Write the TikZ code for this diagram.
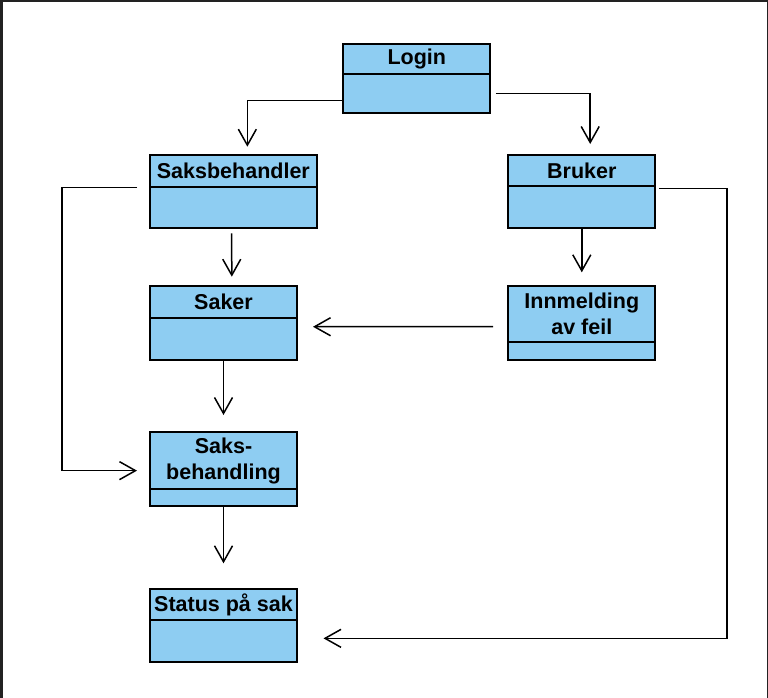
\documentclass[tikz,border=0pt]{standalone}
\usepackage{fontspec}
\setmainfont{Liberation Sans}
\usetikzlibrary{arrows.meta,positioning}
\definecolor{umlblue}{RGB}{142,205,242}
\definecolor{framegray}{RGB}{34,34,34}
\begin{document}
\begin{tikzpicture}[x=1pt,y=-1pt,line width=1.5pt,
  head/.style={draw,line width=2pt,fill=umlblue,anchor=north west,inner sep=0pt,outer sep=0pt,
    minimum width=147pt,minimum height=31pt,align=center,
    font=\fontsize{21.5}{26}\selectfont\bfseries},
  body/.style={draw,line width=2pt,fill=umlblue,inner sep=0pt,outer sep=0pt,
    minimum width=147pt,minimum height=42pt},
  arr/.style={-{Straight Barb[length=16pt,width=18pt]}}]
\useasboundingbox (0,0) rectangle (768,698);
\fill[framegray] (0,0) rectangle (768,2.5);
\fill[framegray] (0,0) rectangle (3,698);
\fill[framegray] (767,0) rectangle (768,698);
% klasser
\node[head,minimum height=30.3pt] (login) at (343.3,44) {Login};
\node[body,below=0pt of login,minimum height=38.4pt] (login-b) {};
\node[head,minimum width=166.7pt,minimum height=31.7pt] (saksbeh) at (150,155) {Saksbehandler};
\node[body,below=0pt of saksbeh,minimum width=166.7pt,minimum height=41.6pt] (saksbeh-b) {};
\node[head,minimum height=30.7pt] (bruker) at (508.3,155) {Bruker};
\node[body,below=0pt of bruker,minimum height=42.6pt] (bruker-b) {};
\node[head,minimum height=31.7pt] (saker) at (150,286) {Saker};
\node[body,below=0pt of saker,minimum height=42.3pt] (saker-b) {};
\node[head,minimum height=56.3pt] (innmeld) at (508.3,286) {Innmelding\\av feil};
\node[body,below=0pt of innmeld,minimum height=17.7pt] (innmeld-b) {};
\node[head,minimum height=56.7pt] (saksb) at (150,432.3) {Saks-\\behandling};
\node[body,below=0pt of saksb,minimum height=16.7pt] (saksb-b) {};
\node[head] (status) at (150,589) {Status på sak};
\node[body,below=0pt of status,minimum height=42.3pt] (status-b) {};
% piler
\draw[arr] ([yshift=-7pt]login-b.west) -| ([xshift=14pt,yshift=8.3pt]saksbeh.north);
\draw[arr] ([xshift=5.5pt]login-b.east) -| ([xshift=8.4pt,yshift=11pt]bruker.north);
\draw[arr] ([xshift=-1.7pt,yshift=-5pt]saksbeh-b.south) -- ([xshift=8.3pt,yshift=9.3pt]saker.north);
\draw[arr] (bruker-b.south) -- ([yshift=13.7pt]bruker-b.south |- innmeld.north);
\draw[arr] ([xshift=-15.3pt,yshift=-12.5pt]innmeld.west) -- ([xshift=16pt,yshift=12.1pt]saker-b.east);
\draw[arr] (saker-b.south) -- ([yshift=17.3pt]saksb.north);
\draw[arr] ([xshift=-13pt,yshift=-1pt]saksbeh.south west) -- ++(-75,0) |- ([xshift=-13pt,yshift=-10pt]saksb.west);
\draw[arr] (saksb-b.south) -- ([yshift=25.7pt]status.north);
\draw[arr] ([xshift=4pt,yshift=-2.6pt]bruker.south east) -- ++(67.5,0) |- ([xshift=26.5pt,yshift=2.8pt]status-b.east);
\end{tikzpicture}
\end{document}
